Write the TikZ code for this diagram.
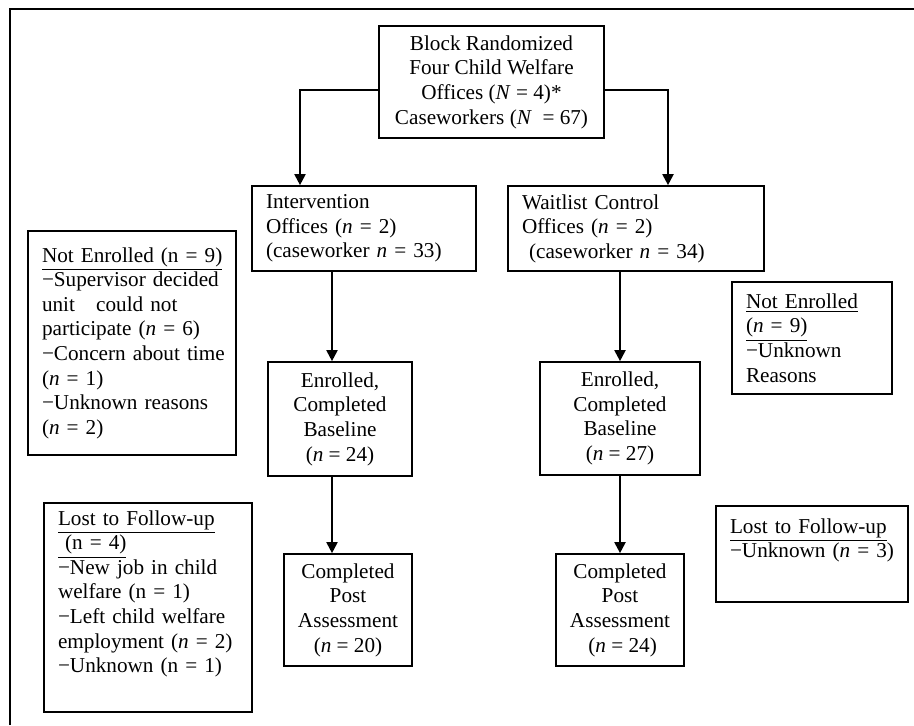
\documentclass[tikz,border=0pt]{standalone}
\usepackage{fontspec}
\setmainfont{Liberation Serif}
\usetikzlibrary{arrows.meta}

\begin{document}
\begin{tikzpicture}[x=0.5pt, y=-0.5pt,
  every node/.style={font=\fontsize{10.6}{12.3}\selectfont},
  cbox/.style={draw, line width=0.85pt, align=center, inner sep=0pt},
  lbox/.style={draw, line width=0.85pt, align=left, inner xsep=7pt, inner ysep=0pt},
  arr/.style={line width=1pt, -{Triangle[length=5.5pt,width=5.5pt]}}]
\useasboundingbox (0,0) rectangle (914,725);
\draw [line width=1.35pt] (10,725) |- (914,9);

\node[cbox, minimum width=112.5pt, minimum height=56pt] (top) at (491.5,82) {Block Randomized\\Four Child Welfare\\Offices (\textit{N} = 4)*\\Caseworkers (\textit{N}\ \ = 67)};
\node[lbox, text width=98pt, minimum height=42.5pt] (interv) at (364,228.5) {Intervention\\Offices (\textit{n} = 2)\\(caseworker \textit{n} = 33)};
\node[lbox, text width=114pt, minimum height=42.5pt] (wait) at (636,228.5) {Waitlist Control\\Offices (\textit{n} = 2)\\\ (caseworker \textit{n} = 34)};
\node[lbox, text width=90pt, minimum height=112pt] (neL) at (132,343) {\underline{Not Enrolled (n = 9)}\\−Supervisor~decided\\unit\hspace{1em}could not\\participate (\textit{n} = 6)\\−Concern~about~time\\(\textit{n} = 1)\\−Unknown~reasons\\(\textit{n} = 2)};
\node[lbox, text width=66pt, minimum height=56pt] (neR) at (812,338) {\underline{Not Enrolled}\\\underline{(\textit{n} = 9)}\\−Unknown\\Reasons};
\node[cbox, minimum width=72pt, minimum height=57pt] (enrL) at (340,419) {Enrolled,\\Completed\\Baseline\\(\textit{n} = 24)};
\node[cbox, minimum width=80pt, minimum height=56.5pt] (enrR) at (620,418.5) {Enrolled,\\Completed\\Baseline\\(\textit{n} = 27)};
\node[lbox, text width=90pt, minimum height=104.5pt] (lostL) at (148,607.5) {\underline{Lost to Follow-up}\\\underline{\ (n = 4)}\\−New job in child\\welfare (n = 1)\\−Left child welfare\\employment~(\textit{n}~=~2)\\−Unknown (n = 1)\\\strut};
\node[lbox, text width=82pt, minimum height=48pt] (lostR) at (812,554) {\underline{Lost to Follow-up}\\−Unknown~(\textit{n}~=~3)\\\strut};
\node[cbox, minimum width=64pt, minimum height=56pt] (postL) at (348,610) {Completed\\Post\\Assessment\\(\textit{n} = 20)};
\node[cbox, minimum width=64pt, minimum height=56pt] (postR) at (620,610) {Completed\\Post\\Assessment\\\ (\textit{n} = 24)};

\coordinate (lj) at (300,90);
\coordinate (rj) at (668,90);
\coordinate (lcol) at (332,0);
\coordinate (rcol) at (620,0);
\draw [arr] (top.west |- lj) -| (interv.north -| lj);
\draw [arr] (top.east |- rj) -| (wait.north -| rj);
\draw [arr] (interv.south -| lcol) -- (enrL.north -| lcol);
\draw [arr] (enrL.south -| lcol) -- (postL.north -| lcol);
\draw [arr] (wait.south -| rcol) -- (enrR.north -| rcol);
\draw [arr] (enrR.south -| rcol) -- (postR.north -| rcol);
\end{tikzpicture}
\end{document}
